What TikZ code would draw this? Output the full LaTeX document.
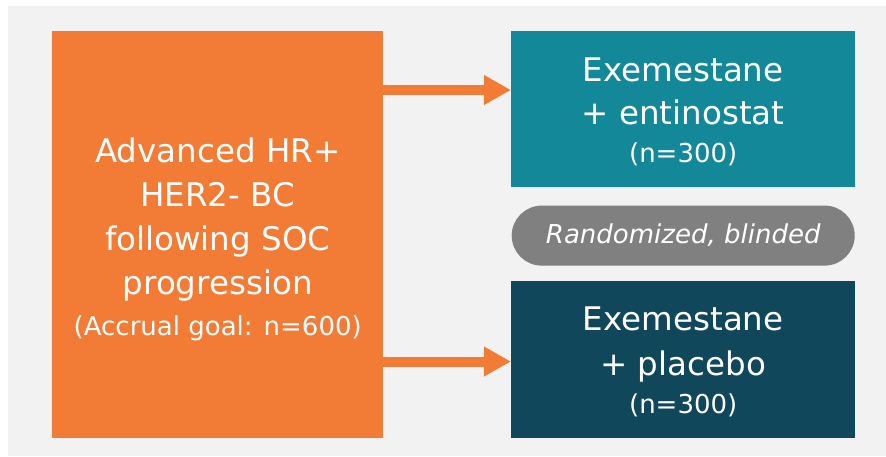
\documentclass[tikz,border=0pt]{standalone}
\usepackage{fontspec}
\setmainfont{DejaVu Sans}
\usetikzlibrary{positioning, arrows.meta}

\definecolor{armorange}{HTML}{F27B36}
\definecolor{armteal}{HTML}{138899}
\definecolor{armdark}{HTML}{11475A}
\definecolor{pillgray}{HTML}{808080}
\definecolor{panelgray}{HTML}{F2F2F2}

\begin{document}
\begin{tikzpicture}[
    x=1pt, y=-1pt,
    box/.style={anchor=north west, inner sep=0pt, text=white, align=center,
                font=\fontsize{32.5}{44}\selectfont}, % Style for the colored boxes
    arr/.style={armorange, line width=10pt, -{Triangle[length=27pt, width=28pt]}} % Style for the arrows
  ]
    % Background panel
    \useasboundingbox (0,0) rectangle (886,456);
    \fill[panelgray] (8,6) rectangle (886,456);

    % Define nodes
    \node (pop) [box, fill=armorange, minimum width=331pt, minimum height=407pt] at (52,31)
      {\rule{0pt}{33pt}Advanced HR+\\HER2- BC\\following SOC\\progression\\[-3pt]{\fontsize{26}{30}\selectfont (Accrual goal: n=600)}};
    \node (arma) [box, fill=armteal, minimum width=344pt, minimum height=156pt] at (511,31)
      {\rule{0pt}{29pt}Exemestane\\[-1pt]+ entinostat\\[-6pt]{\fontsize{26}{30}\selectfont (n=300)}};
    \node (armb) [box, fill=armdark, minimum width=344pt, minimum height=157pt] at (511,281)
      {\rule{0pt}{28pt}Exemestane\\[1pt]+ placebo\\[-6pt]{\fontsize{26}{30}\selectfont (n=300)}};
    \node (rand) [below=18pt of arma.south, anchor=north, fill=pillgray, text=white,
                  minimum width=343pt, minimum height=60pt, rounded corners=30pt,
                  font=\fontsize{26}{30}\selectfont\itshape] {Randomized, blinded};

    % Arrow levels
    \coordinate (lvla) at (0,90);
    \coordinate (lvlb) at (0,361.5);

    % Draw arrows
    \draw[arr] (pop.east |- lvla) -- (arma.west |- lvla);
    \draw[arr] (pop.east |- lvlb) -- (armb.west |- lvlb);
\end{tikzpicture}
\end{document}
